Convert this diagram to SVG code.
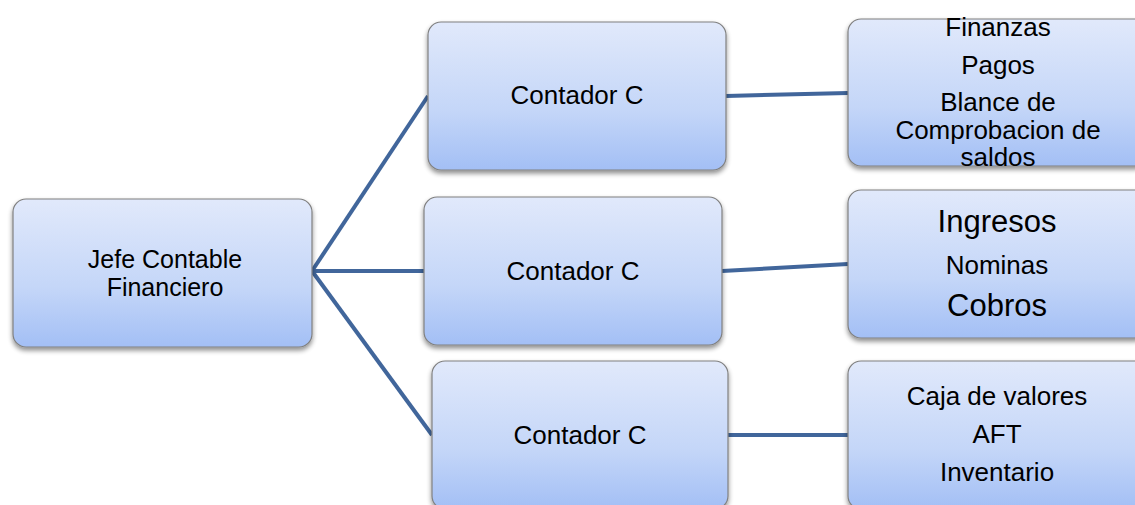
<svg xmlns="http://www.w3.org/2000/svg" width="1135" height="505" viewBox="0 0 1135 505">
  <defs>
    <linearGradient id="boxFill" x1="0" y1="0" x2="0" y2="1">
      <stop offset="0" stop-color="#e1e9fb"/>
      <stop offset="0.6" stop-color="#c4d6f8"/>
      <stop offset="1" stop-color="#a3bff5"/>
    </linearGradient>
    <filter id="shadow" x="-10%" y="-10%" width="120%" height="130%">
      <feGaussianBlur in="SourceAlpha" stdDeviation="2.5"/>
      <feOffset dx="0" dy="3" result="b"/>
      <feComponentTransfer><feFuncA type="linear" slope="0.45"/></feComponentTransfer>
      <feMerge><feMergeNode/><feMergeNode in="SourceGraphic"/></feMerge>
    </filter>
  </defs>
  <style>
    .box { fill: url(#boxFill); stroke: #808080; stroke-width: 1.2; filter: url(#shadow); }
    .link { stroke: #41669b; stroke-width: 4; fill: none; stroke-linecap: butt; }
    text { font-family: "Liberation Sans", Arial, sans-serif; fill: #000; text-anchor: middle; font-size: 26px; }
    .big { font-size: 31px; }
    .mid { font-size: 25px; }
  </style>
  <rect width="1135" height="505" fill="#ffffff"/>

  <g id="connectors">
    <line class="link" x1="312" y1="271" x2="428" y2="96"/>
    <line class="link" x1="312" y1="271" x2="424" y2="271"/>
    <line class="link" x1="312" y1="271" x2="432" y2="435"/>
    <line class="link" x1="726" y1="96" x2="848" y2="93"/>
    <line class="link" x1="722" y1="271" x2="848" y2="264"/>
    <line class="link" x1="728" y1="435" x2="848" y2="435"/>
  </g>

  <g id="jefe">
    <rect class="box" x="13" y="199" width="299" height="148" rx="13"/>
    <text class="mid" x="165" y="268">Jefe Contable</text>
    <text class="mid" x="165" y="296">Financiero</text>
  </g>

  <g id="contador-1">
    <rect class="box" x="428" y="22" width="298" height="148" rx="13"/>
    <text x="577" y="104">Contador C</text>
  </g>
  <g id="contador-2">
    <rect class="box" x="424" y="197" width="298" height="148" rx="13"/>
    <text x="573" y="280">Contador C</text>
  </g>
  <g id="contador-3">
    <rect class="box" x="432" y="361" width="296" height="148" rx="13"/>
    <text x="580" y="444">Contador C</text>
  </g>

  <g id="finanzas">
    <rect class="box" x="848" y="19" width="300" height="147" rx="13"/>
    <text x="998" y="36">Finanzas</text>
    <text x="998" y="74">Pagos</text>
    <text x="998" y="111">Blance de</text>
    <text x="998" y="139">Comprobacion de</text>
    <text x="998" y="166">saldos</text>
  </g>
  <g id="ingresos">
    <rect class="box" x="848" y="190" width="300" height="148" rx="13"/>
    <text class="big" x="997" y="232">Ingresos</text>
    <text x="997" y="274">Nominas</text>
    <text class="big" x="997" y="316">Cobros</text>
  </g>
  <g id="caja">
    <rect class="box" x="848" y="361" width="300" height="148" rx="13"/>
    <text x="997" y="405">Caja de valores</text>
    <text x="997" y="443">AFT</text>
    <text x="997" y="481">Inventario</text>
  </g>
</svg>
